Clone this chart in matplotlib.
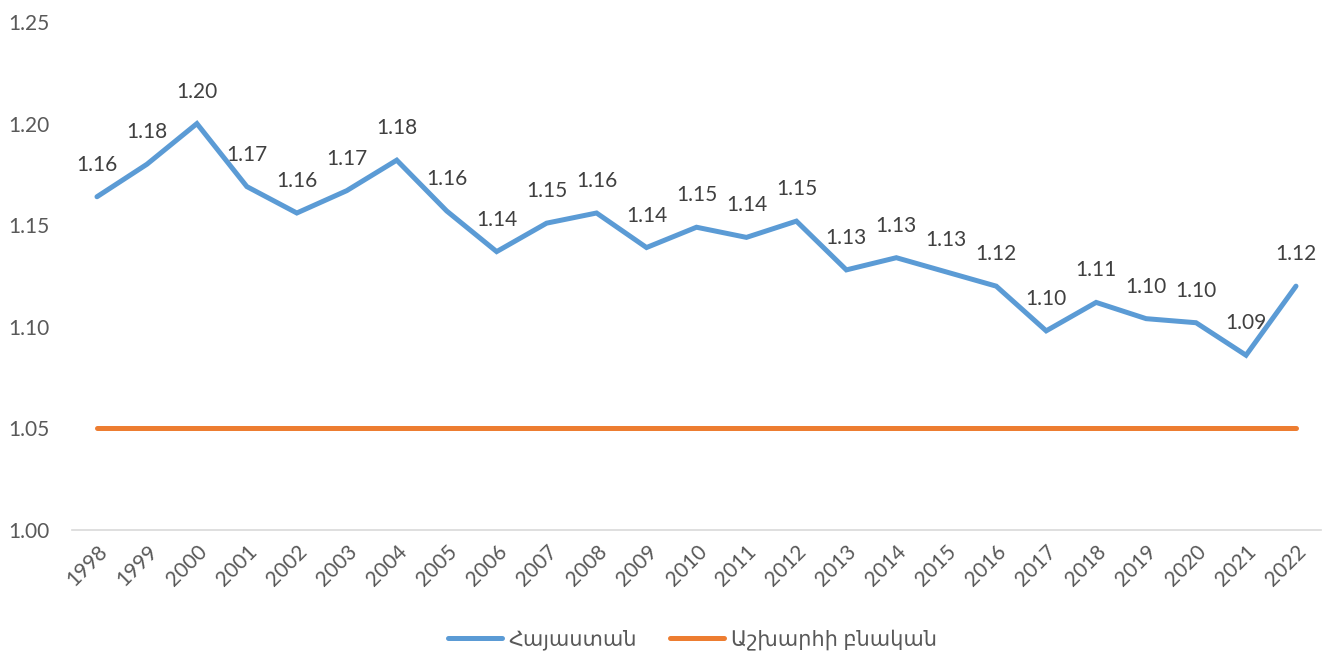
import matplotlib
matplotlib.use("Agg")
import matplotlib.pyplot as plt

plt.rcParams['font.family'] = ['Lato', 'DejaVu Sans']

years = [str(y) for y in range(1998, 2023)]
armenia = [1.164, 1.180, 1.200, 1.169, 1.156, 1.167, 1.182, 1.157, 1.137, 1.151,
           1.156, 1.139, 1.149, 1.144, 1.152, 1.128, 1.134, 1.127, 1.120, 1.098,
           1.112, 1.104, 1.102, 1.086, 1.120]
world = [1.05] * len(years)
labels = ['Հայաստան', 'Աշխարհի բնական']

text_color = '#595959'
blue = '#5B9BD5'
orange = '#ED7D31'

fig = plt.figure(figsize=(13.26, 6.53), dpi=100)
ax = fig.add_axes([0.0543, 0.1884, 0.9419, 0.7779])

x = list(range(len(years)))
ax.plot(x, armenia, color=blue, lw=3.6, solid_capstyle='round',
        solid_joinstyle='miter', label=labels[0])
ax.plot(x, world, color=orange, lw=3.6, solid_capstyle='round', label=labels[1])

for xi, v in zip(x, armenia):
    ax.annotate(f'{v:.2f}', (xi, v), xytext=(0, 23), textcoords='offset points',
                ha='center', va='center', fontsize=15, color='#404040')

ax.set_xlim(-0.5, len(years) - 0.5)
ax.set_ylim(1.00, 1.25)
ax.set_yticks([1.00, 1.05, 1.10, 1.15, 1.20, 1.25])
ax.set_yticklabels([f'{t:.2f}' for t in [1.00, 1.05, 1.10, 1.15, 1.20, 1.25]])
ax.set_xticks(x)
ax.set_xticklabels(years, rotation=45, ha='right', rotation_mode='anchor')

for s in ['top', 'right', 'left']:
    ax.spines[s].set_visible(False)
ax.spines['bottom'].set_color('#D9D9D9')
ax.spines['bottom'].set_linewidth(1.2)
ax.tick_params(axis='y', length=0, pad=16, labelsize=15, labelcolor=text_color)
ax.tick_params(axis='x', length=0, pad=8, labelsize=15, labelcolor=text_color)

fig.legend(loc='lower center', bbox_to_anchor=(0.522, -0.024), ncol=2, frameon=False,
           fontsize=15, labelcolor=text_color, handlelength=2.6,
           columnspacing=1.6, handletextpad=0.3)

fig.savefig('out.png', dpi=100)
